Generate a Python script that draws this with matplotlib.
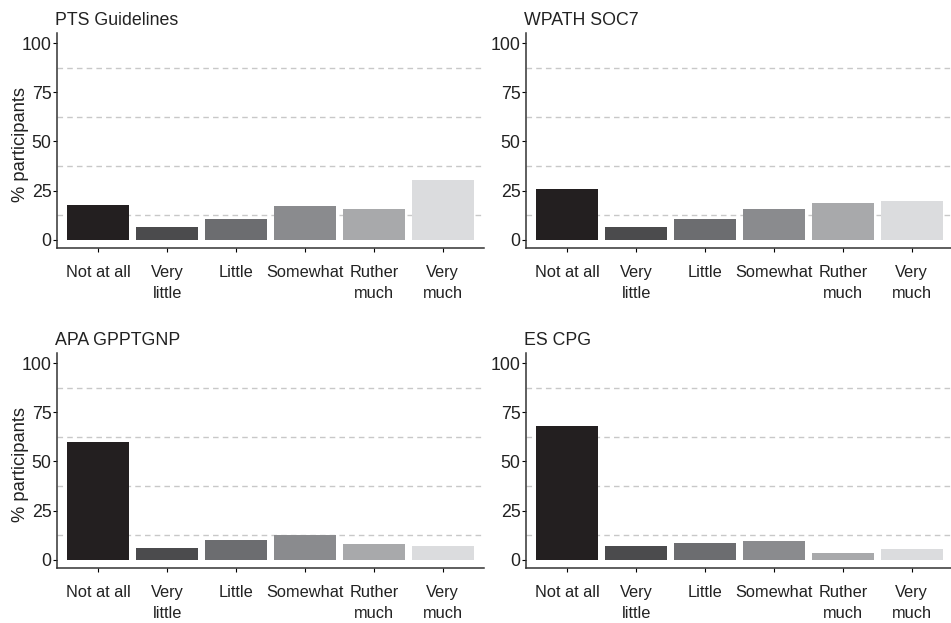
import matplotlib.pyplot as plt
import numpy as np

plt.rcParams['font.family'] = ['Liberation Sans', 'DejaVu Sans']

categories = ['Not at all', 'Very\nlittle', 'Little', 'Somewhat', 'Ruther\nmuch', 'Very\nmuch']
colors = ['#231f20', '#4b4b4d', '#6c6d70', '#8a8b8e', '#a8a9ab', '#dbdcde']

pts = [17.8, 6.6, 10.7, 17.3, 15.8, 30.5]
wpath = [25.9, 6.6, 10.7, 15.8, 18.8, 19.8]
apa = [59.7, 5.8, 9.8, 12.4, 7.8, 6.8]
es = [67.8, 6.8, 8.3, 9.3, 3.2, 5.3]

titles = ['PTS Guidelines', 'WPATH SOC7', 'APA GPPTGNP', 'ES CPG']
series = [pts, wpath, apa, es]

fig = plt.figure(figsize=(9.51, 6.23), dpi=100)
W, H = 951, 623
# panel boxes in pixels: left, top, right, bottom
boxes = [(57, 33, 484, 248), (526, 33, 953, 248),
         (57, 353, 484, 568), (526, 353, 953, 568)]

x = np.arange(len(categories))
for i, (vals, title, b) in enumerate(zip(series, titles, boxes)):
    l, t, r, bt = b
    ax = fig.add_axes([l / W, 1 - bt / H, (r - l) / W, (bt - t) / H])
    for g in [12.5, 37.5, 62.5, 87.5]:
        ax.axhline(g, color='#c8c8c8', lw=1, ls=(0, (4, 3)), zorder=0)
    ax.bar(x, vals, width=0.9, color=colors, zorder=2)
    ax.set_xlim(-0.6, 5.6)
    ax.set_ylim(-4.2, 105.1)
    ax.set_yticks([0, 25, 50, 75, 100])
    ax.set_xticks(x)
    ax.set_xticklabels(categories, fontsize=11.8, color='#222222', linespacing=1.5)
    ax.tick_params(axis='y', labelsize=12.8, labelcolor='#222222', length=3, width=0.8, pad=1)
    ax.tick_params(axis='x', length=3, width=0.8, pad=9)
    for s in ['top', 'right']:
        ax.spines[s].set_visible(False)
    for s in ['left', 'bottom']:
        ax.spines[s].set_color('#333333')
        ax.spines[s].set_linewidth(1.1)
    ax.set_title(title, loc='left', fontsize=12.8, color='#222222', pad=6,
                 x=-0.005)
    if i % 2 == 0:
        ax.set_ylabel('% participants', fontsize=13.2, color='#222222')
        ax.yaxis.set_label_coords(-0.066, 0.48)

fig.savefig('out.png', dpi=100)
